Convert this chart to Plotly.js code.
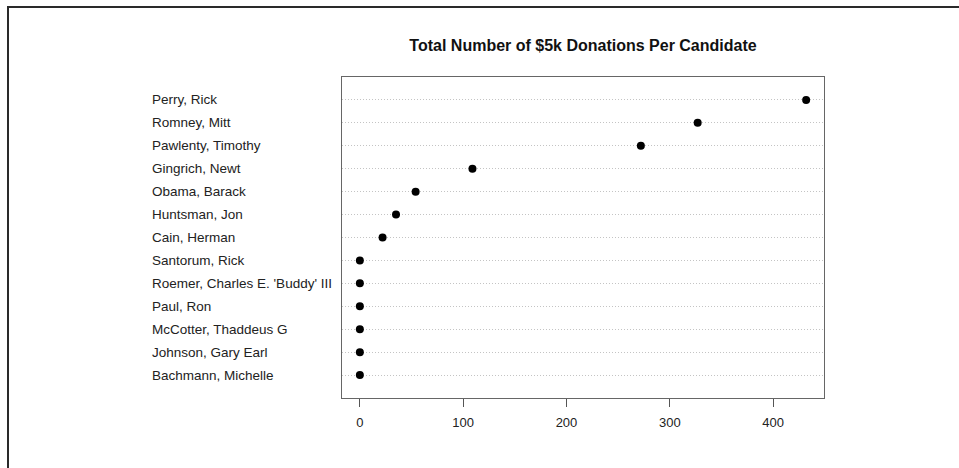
<!DOCTYPE html>
<html>
<head>
<meta charset="utf-8">
<script src="https://cdn.plot.ly/plotly-3.0.1.min.js"></script>
<style>
  html, body { margin: 0; padding: 0; background: #fff; }
  #wrap { position: relative; width: 959px; height: 468px; overflow: hidden; }
  #chart { position: absolute; left: 0; top: 0; width: 959px; height: 468px; }
  #frame { position: absolute; left: 7px; top: 6px; width: 1000px; height: 1000px;
           border-top: 2px solid #2a2a2a; border-left: 2px solid #2a2a2a; pointer-events: none; }
</style>
</head>
<body>
<div id="wrap">
  <div id="chart"></div>
  <div id="frame"></div>
</div>
<script>
// Candidates, bottom to top as drawn
const candidates = [
  "Bachmann, Michelle",
  "Johnson, Gary Earl",
  "McCotter, Thaddeus G",
  "Paul, Ron",
  "Roemer, Charles E. 'Buddy' III",
  "Santorum, Rick",
  "Cain, Herman",
  "Huntsman, Jon",
  "Obama, Barack",
  "Gingrich, Newt",
  "Pawlenty, Timothy",
  "Romney, Mitt",
  "Perry, Rick"
];
const donations = [0, 0, 0, 0, 0, 0, 22, 35, 54, 109, 272, 327, 432];
const xTicks = [0, 100, 200, 300, 400];
const chartTitle = "Total Number of $5k Donations Per Candidate";

const trace = {
  type: 'scatter',
  mode: 'markers',
  x: donations,
  y: candidates,
  marker: { color: '#000', size: 8 },
  hoverinfo: 'x+y',
  cliponaxis: false
};

const annotations = candidates.map(c => ({
  xref: 'paper', yref: 'y',
  x: -0.3985, y: c,
  xanchor: 'left', yanchor: 'middle',
  text: c, showarrow: false,
  font: { family: 'Liberation Sans, Arial, sans-serif', size: 13.5, color: '#222' }
}));

const layout = {
  width: 959, height: 468,
  margin: { l: 342, r: 135, t: 77, b: 70 },
  paper_bgcolor: '#fff', plot_bgcolor: '#fff',
  showlegend: false,
  title: {
    text: '<b>' + chartTitle + '</b>',
    x: 0.5, xanchor: 'center', xref: 'paper',
    y: 1 - 45 / 468, yanchor: 'middle',
    font: { family: 'Liberation Sans, Arial, sans-serif', size: 16, color: '#111' }
  },
  xaxis: {
    range: [-17.28, 449.28],
    tickmode: 'array', tickvals: xTicks, ticktext: xTicks.map(String),
    ticks: 'outside', ticklen: 8, tickwidth: 1, tickcolor: '#555',
    ticklabelstandoff: 4,
    showgrid: false, zeroline: false,
    showline: true, mirror: true, linecolor: '#666', linewidth: 1,
    tickfont: { family: 'Liberation Sans, Arial, sans-serif', size: 13, color: '#222' },
    fixedrange: true
  },
  yaxis: {
    type: 'category',
    categoryorder: 'array', categoryarray: candidates,
    range: [-1, 13],
    showticklabels: false, ticks: '',
    showgrid: true, gridcolor: '#c4c4c4', griddash: '1px,2px', gridwidth: 1,
    zeroline: false,
    showline: true, mirror: true, linecolor: '#666', linewidth: 1,
    fixedrange: true
  },
  annotations: annotations
};

Plotly.newPlot('chart', [trace], layout, { staticPlot: true, displayModeBar: false });
</script>
</body>
</html>
